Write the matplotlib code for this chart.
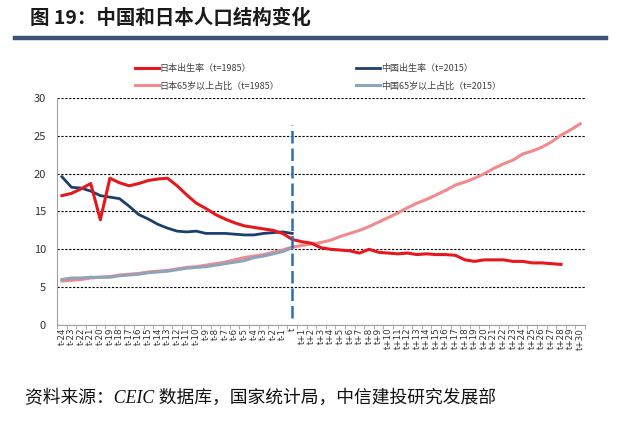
import numpy as np
import matplotlib
matplotlib.use("Agg")
import matplotlib.pyplot as plt

plt.rcParams['font.family'] = ['Noto Sans CJK SC', 'DejaVu Sans']

# categories: t-24 ... t ... t+30
labels = [f"t-{k}" for k in range(24, 0, -1)] + ["t"] + [f"t+{k}" for k in range(1, 31)]

# Japan birth rate (t=1985), ends at t+28
jp_birth = [17.1, 17.4, 18.0, 18.7, 13.9, 19.4, 18.8, 18.4, 18.7, 19.1, 19.3, 19.4,
            18.4, 17.2, 16.1, 15.4, 14.6, 14.0, 13.5, 13.1, 12.9, 12.7, 12.5, 12.1,
            11.3, 11.0, 10.8, 10.2, 10.0, 9.9, 9.8, 9.5, 10.0, 9.6, 9.5, 9.4, 9.5,
            9.3, 9.4, 9.3, 9.3, 9.2, 8.6, 8.4, 8.6, 8.6, 8.6, 8.4, 8.4, 8.2, 8.2,
            8.1, 8.0]

# China birth rate (t=2015), ends at t
cn_birth = [19.6, 18.2, 18.1, 17.7, 17.1, 16.9, 16.7, 15.7, 14.6, 14.0, 13.3, 12.8,
            12.4, 12.3, 12.4, 12.1, 12.1, 12.1, 12.0, 11.9, 11.9, 12.1, 12.2, 12.3,
            12.1]

# Japan 65+ share (t=1985)
jp_65 = [5.8, 5.9, 6.0, 6.2, 6.3, 6.4, 6.6, 6.7, 6.8, 7.0, 7.1, 7.2, 7.4, 7.6,
         7.7, 7.9, 8.1, 8.3, 8.6, 8.9, 9.1, 9.3, 9.6, 9.9, 10.3, 10.5, 10.7, 10.9,
         11.2, 11.7, 12.1, 12.5, 13.0, 13.6, 14.2, 14.8, 15.5, 16.1, 16.6, 17.2,
         17.8, 18.5, 18.9, 19.4, 20.0, 20.7, 21.3, 21.8, 22.6, 23.0, 23.5, 24.2,
         25.1, 25.8, 26.6]

# China 65+ share (t=2015), ends at t
cn_65 = [6.0, 6.2, 6.2, 6.3, 6.3, 6.3, 6.5, 6.6, 6.7, 6.9, 7.0, 7.1, 7.3, 7.5,
         7.6, 7.7, 7.9, 8.1, 8.3, 8.5, 8.9, 9.1, 9.4, 9.7, 10.2]

x = np.arange(len(labels))
t_idx = labels.index("t")

fig = plt.figure(figsize=(6.21, 4.42), dpi=100)
ax = fig.add_axes([0.092, 0.265, 0.85, 0.513])

ax.plot(x[:len(jp_65)], jp_65, color='#F28A8C', lw=2.2, label='日本65岁以上占比（t=1985）', zorder=3)
ax.plot(x[:len(cn_65)], cn_65, color='#8FA3BC', lw=2.2, label='中国65岁以上占比（t=2015）', zorder=4)
ax.plot(x[:len(cn_birth)], cn_birth, color='#1C3F6E', lw=2.0, label='中国出生率（t=2015）', zorder=5)
ax.plot(x[:len(jp_birth)], jp_birth, color='#E5191D', lw=2.2, label='日本出生率（t=1985）', zorder=6)

# vertical marker at t
ax.plot([t_idx, t_idx], [0.9, 26.5], color='#2F6DB5', lw=1.8, ls=(0, (5, 2)), zorder=7)

ax.set_xlim(-0.5, len(labels) - 0.5)
ax.set_ylim(0, 30)
ax.set_yticks(range(0, 31, 5))
ax.yaxis.grid(True, color='black', ls=(0, (2, 1.5)), lw=0.8)
ax.set_axisbelow(True)

ax.set_xticks(x)
ax.set_xticklabels(labels, rotation=90, fontsize=6.3, color='#333333', family='DejaVu Sans')
ax.set_xticks(np.arange(-0.5, len(labels), 1), minor=True)
ax.tick_params(axis='x', which='major', length=0, pad=2)
ax.tick_params(axis='x', which='minor', length=3, color='#A0A0A0')
ax.tick_params(axis='y', length=0, labelsize=8, labelcolor='#333333', pad=8)
for s in ['top', 'right']:
    ax.spines[s].set_visible(False)
ax.spines['left'].set_color('#A0A0A0')
ax.spines['bottom'].set_color('#A0A0A0')

h, l = ax.get_legend_handles_labels()
order = [3, 0, 2, 1]
fig.legend([h[i] for i in order], [l[i] for i in order], ncol=2, frameon=False,
           loc='center left', bbox_to_anchor=(0.205, 0.825), fontsize=6.5,
           handlelength=2.6, handletextpad=0.1, columnspacing=8.5, labelspacing=0.9,
           labelcolor='#404040')

fig.text(0.048, 0.958, '图 19：中国和日本人口结构变化', fontsize=14, fontweight='bold',
         color='#1a1a1a', va='center')
fig.add_artist(plt.Line2D([0.024, 0.976], [0.914, 0.914], color='#3F5378', lw=3.2,
                          transform=fig.transFigure))

fig.text(0.04, 0.098, '资料来源：CEIC 数据库，国家统计局，中信建投研究发展部', fontsize=12.8,
         style='italic', family=['Liberation Serif', 'Noto Sans CJK SC'], color='#111111',
         va='center')

fig.savefig('out.png', dpi=100)
